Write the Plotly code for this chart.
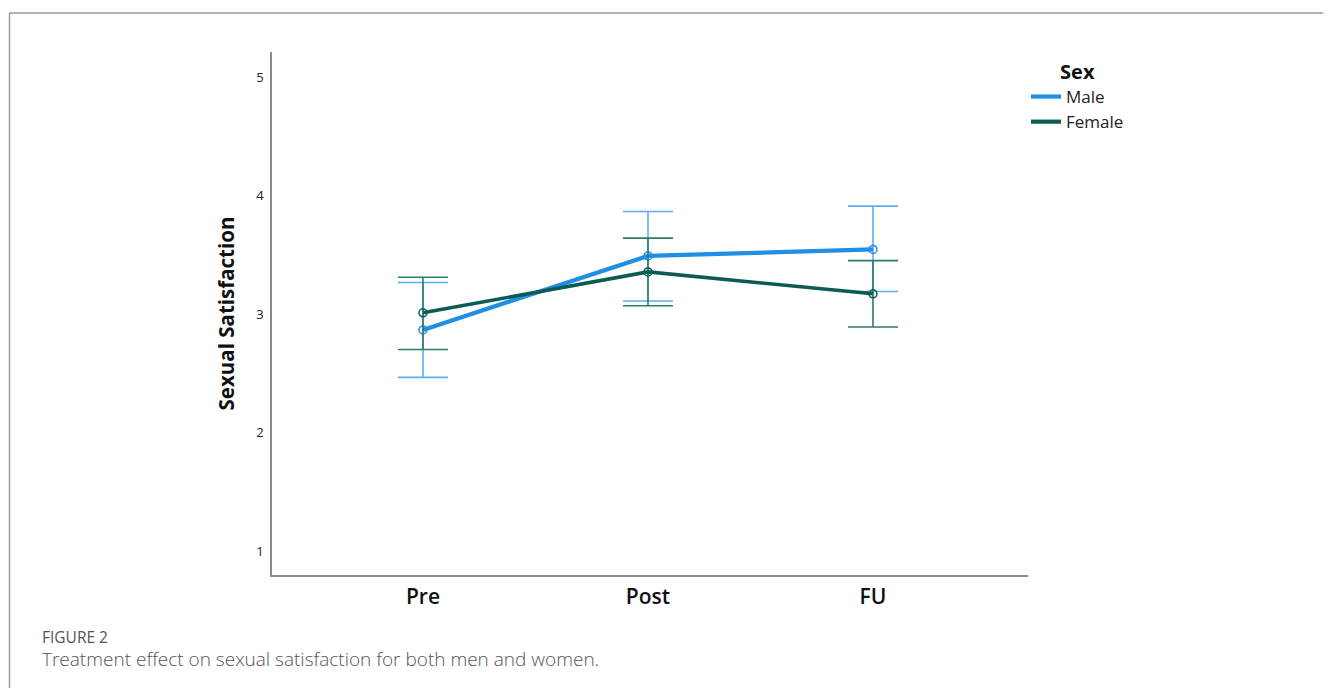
import plotly.graph_objects as go

categories = ["Pre", "Post", "FU"]
male_mean = [2.865, 3.49, 3.545]
male_upper = [3.265, 3.865, 3.91]
male_lower = [2.465, 3.11, 3.19]
female_mean = [3.01, 3.355, 3.17]
female_upper = [3.31, 3.64, 3.45]
female_lower = [2.70, 3.07, 2.89]
y_ticks = [1, 2, 3, 4, 5]

MALE_LINE = "#1f8fe6"
MALE_ERR = "#5ab0ee"
FEM_LINE = "#0c5c55"
FEM_ERR = "#2f7a70"

xpos = list(range(len(categories)))

def err(mean, up, lo):
    return dict(type="data", symmetric=False,
                array=[u - m for u, m in zip(up, mean)],
                arrayminus=[m - l for m, l in zip(mean, lo)])

fig = go.Figure()
fig.add_trace(go.Scatter(
    x=xpos, y=male_mean, name="Male", mode="lines+markers", showlegend=False,
    line=dict(color=MALE_LINE, width=4.2),
    marker=dict(symbol="circle-open", size=8, color=MALE_LINE, line=dict(width=1.5)),
    error_y=dict(**err(male_mean, male_upper, male_lower), color=MALE_ERR, thickness=1.6, width=25),
))
fig.add_trace(go.Scatter(
    x=xpos, y=female_mean, name="Female", mode="lines+markers", showlegend=False,
    line=dict(color=FEM_LINE, width=3.6),
    marker=dict(symbol="circle-open", size=8, color=FEM_LINE, line=dict(width=1.5)),
    error_y=dict(**err(female_mean, female_upper, female_lower), color=FEM_ERR, thickness=1.6, width=25),
))
# legend-only entries (line samples without markers)
fig.add_trace(go.Scatter(x=[None], y=[None], name="Male", mode="lines",
                         line=dict(color=MALE_LINE, width=4.2), showlegend=True))
fig.add_trace(go.Scatter(x=[None], y=[None], name="Female", mode="lines",
                         line=dict(color=FEM_LINE, width=4.2), showlegend=True))

OFF = 8  # page body margin
W, H = 1331 - OFF, 688 - OFF
L, R, T, B = 272 - OFF, 1028 - OFF, 52 - OFF, 575 - OFF
pw, ph = R - L, B - T

def px(x):
    return (x - OFF - L) / pw

def py(y):
    return (B - (y - OFF)) / ph

fig.update_layout(
    width=W, height=H,
    margin=dict(l=L, r=W - R, t=T, b=H - B, pad=0),
    paper_bgcolor="white", plot_bgcolor="white",
    font=dict(family="Open Sans", color="#222"),
    showlegend=True,
    legend=dict(
        x=px(1026), y=py(53), xanchor="left", yanchor="top",
        title=dict(text="<b>Sex</b>", side="top center", font=dict(size=20, color="#111")),
        font=dict(size=17, color="#222"),
        bgcolor="rgba(0,0,0,0)", tracegroupgap=0, itemwidth=30,
    ),
    xaxis=dict(
        range=[-0.671, 2.689], tickvals=xpos, ticktext=categories,
        showgrid=False, zeroline=False, showline=True, linecolor="#8a8a8a", linewidth=1.5,
        ticks="", tickfont=dict(size=21, color="#111", family="Open Sans", weight=600),
        ticklabelstandoff=2,
    ),
    yaxis=dict(
        range=[0.797, 5.211], tickvals=y_ticks,
        showgrid=False, zeroline=False, showline=True, linecolor="#8a8a8a", linewidth=1.5,
        ticks="", tickfont=dict(size=13, color="#222"),
        ticklabelstandoff=4,
        title=dict(text="<b>Sexual Satisfaction</b>", font=dict(size=20.5, color="#111"), standoff=16),
    ),
    shapes=[
        dict(type="line", xref="paper", yref="paper", x0=px(9.5), x1=px(1345), y0=py(13), y1=py(13),
             line=dict(color="#9a9a9a", width=1.5)),
        dict(type="line", xref="paper", yref="paper", x0=px(9.5), x1=px(9.5), y0=py(13), y1=py(700),
             line=dict(color="#9a9a9a", width=1.5)),
    ],
    annotations=[
        dict(text="FIGURE 2", xref="paper", yref="paper", x=px(40), y=py(637), xanchor="left",
             yanchor="middle", showarrow=False, font=dict(size=15.5, color="#555", family="Open Sans")),
        dict(text="Treatment effect on sexual satisfaction for both men and women.", xref="paper",
             yref="paper", x=px(40), y=py(659), xanchor="left", yanchor="middle", showarrow=False,
             font=dict(size=19, color="#555", family="Open Sans", weight=300)),
    ],
)

fig.write_html("out.html")
